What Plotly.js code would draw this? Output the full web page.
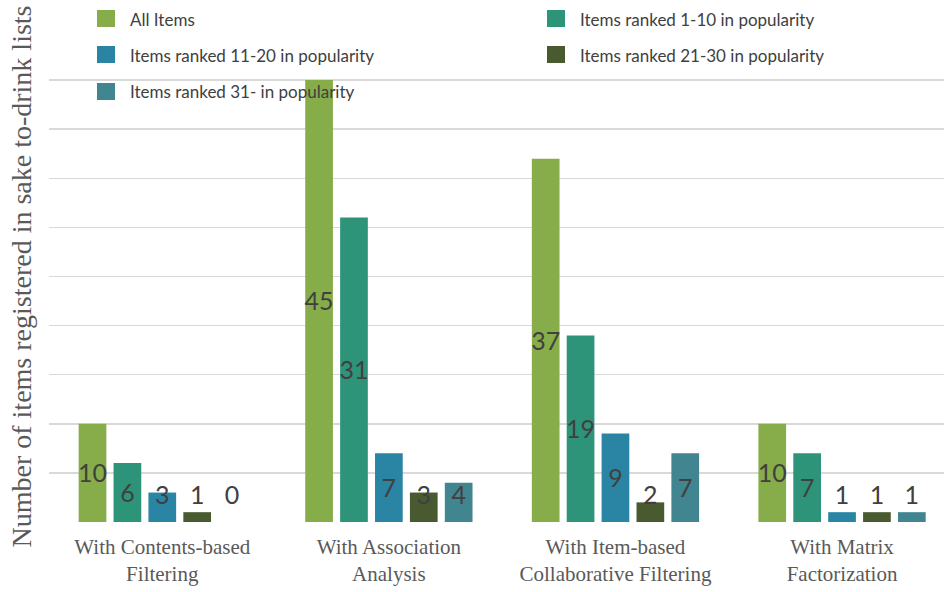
<!DOCTYPE html>
<html>
<head>
<meta charset="utf-8">
<script src="https://cdn.plot.ly/plotly-3.0.1.min.js"></script>
<style>html,body{margin:0;padding:0;background:#fff;}#chart{width:944px;height:592px;}</style>
</head>
<body>
<div id="chart"></div>
<script>
const categories = ["With Contents-based<br>Filtering", "With Association<br>Analysis", "With Item-based<br>Collaborative Filtering", "With Matrix<br>Factorization"];
const seriesNames = ["All Items", "Items ranked 1-10 in popularity", "Items ranked 11-20 in popularity", "Items ranked 21-30 in popularity", "Items ranked 31- in popularity"];
const allItems = [10, 45, 37, 10];
const ranked1to10 = [6, 31, 19, 7];
const ranked11to20 = [3, 7, 9, 1];
const ranked21to30 = [1, 3, 2, 1];
const ranked31up = [0, 4, 7, 1];
const seriesValues = [allItems, ranked1to10, ranked11to20, ranked21to30, ranked31up];
const colors = ["#86ad4a", "#2e9479", "#2a85a4", "#4a5a30", "#40858f"];

const bargap = 0.23, bargroupgap = 0.206;
const nSeries = seriesValues.length;
const slot = (1 - bargap) / nSeries;
const xIdx = categories.map((c, i) => i);

const traces = [];
seriesValues.forEach((vals, s) => {
  traces.push({
    type: 'bar', x: xIdx, y: vals, name: seriesNames[s],
    marker: {color: colors[s]}, showlegend: false, hoverinfo: 'y'
  });
});
seriesValues.forEach((vals, s) => {
  traces.push({
    type: 'scatter', mode: 'text',
    x: xIdx.map(g => g + (s - (nSeries - 1) / 2) * slot),
    y: vals.map(v => Math.max(v / 2, 2.75) - 0.3),
    text: vals.map(String),
    textposition: 'middle center',
    textfont: {family: 'Lato, sans-serif', size: 25, color: '#404040'},
    showlegend: false, hoverinfo: 'skip', cliponaxis: false
  });
});

// manual legend (two columns)
const shapes = [], annotations = [];
const legCols = [97, 547], legRows = [19, 55, 92];
const plotL = 49, plotW = 895, plotT = 31, plotH = 491;
const px2x = p => (p - plotL) / plotW;
const py2y = p => 1 - (p - plotT) / plotH;
seriesNames.forEach((nm, i) => {
  const cx = legCols[i % 2], cy = legRows[Math.floor(i / 2)];
  shapes.push({type: 'rect', xref: 'paper', yref: 'paper', x0: px2x(cx), x1: px2x(cx + 18), y0: py2y(cy - 9), y1: py2y(cy + 8), fillcolor: colors[i], line: {width: 0}});
  annotations.push({xref: 'paper', yref: 'paper', x: px2x(cx + 31), y: py2y(cy), xanchor: 'left', yanchor: 'middle', text: nm, showarrow: false, font: {family: 'Lato, sans-serif', size: 17, color: '#404040'}});
});

const layout = {
  width: 944, height: 592,
  margin: {l: plotL, r: 0, t: plotT, b: 592 - plotT - plotH, pad: 0},
  paper_bgcolor: '#fff', plot_bgcolor: '#fff',
  barmode: 'group', bargap: bargap, bargroupgap: bargroupgap,
  xaxis: {range: [-0.5, 3.45], tickmode: 'array', tickvals: xIdx, ticktext: categories,
          showgrid: false, zeroline: false, showline: false, ticks: '', ticklabelstandoff: 10,
          tickfont: {family: 'Liberation Serif, serif', size: 21, color: '#595959'}},
  yaxis: {range: [0, 50], dtick: 5, showgrid: true, gridcolor: '#d9d9d9', gridwidth: 1.5,
          zeroline: false, showticklabels: false, ticks: '',
          title: {text: 'Number of items registered in sake to-drink lists', standoff: 8,
                  font: {family: 'Liberation Serif, serif', size: 28, color: '#595959'}}},
  shapes: shapes, annotations: annotations, showlegend: false
};
Plotly.newPlot('chart', traces, layout, {displayModeBar: false, staticPlot: true});
</script>
</body>
</html>
